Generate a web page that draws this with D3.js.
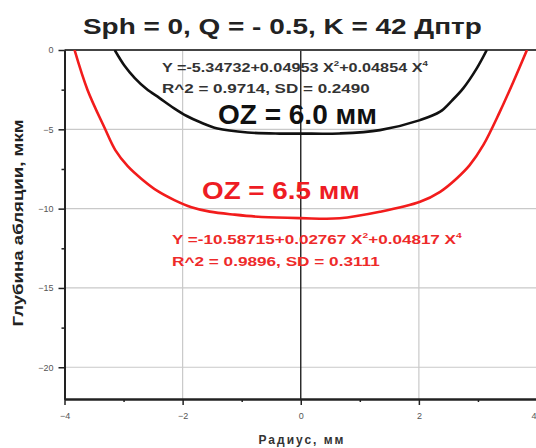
<!DOCTYPE html>
<html>
<head>
<meta charset="utf-8">
<script src="https://cdn.jsdelivr.net/npm/d3@7"></script>
<style>
    body { margin: 0; background: #fff; }
    svg { display: block; font-family: Arial, "Liberation Sans", sans-serif; }
</style>
</head>
<body>
<div id="chart"></div>
<script>
"use strict";

// curves: radius (mm) vs ablation depth (um)
var oz60X = [-3.15, -2.98, -2.81, -2.61, -2.39, -2.15, -1.93, -1.71, -1.41, -0.9, -0.36, 0, 0.66, 1.34, 2.02, 2.36, 2.56, 2.75, 2.98, 3.15];
var oz60Y = [0, -1.01, -1.77, -2.46, -3.03, -3.66, -4.16, -4.54, -4.95, -5.2, -5.27, -5.27, -5.26, -5.05, -4.42, -3.89, -3.19, -2.42, -1.16, 0];
var oz65X = [-3.83, -3.61, -3.32, -3.14, -2.93, -2.69, -2.42, -2.14, -1.85, -1.54, -1.12, -0.66, 0, 0.66, 1.34, 2.02, 2.36, 2.64, 2.86, 3.09, 3.37, 3.6, 3.83];
var oz65Y = [0, -2.52, -4.92, -6.31, -7.32, -8.14, -8.9, -9.46, -9.91, -10.19, -10.38, -10.53, -10.6, -10.61, -10.2, -9.57, -8.94, -8.1, -7.26, -6.0, -3.9, -2.0, 0];

var xTicks = [-4, -2, 0, 2, 4];
var xMinor = [-3, -1, 1, 3];
var yTicks = [0, -5, -10, -15, -20];
var yMinor = [-2.5, -7.5, -12.5, -17.5];

var W = 536, H = 448;
var plotLeft = 64.5, plotRight = 537, plotTop = 50, plotBottom = 399;

var svg = d3.select("#chart").append("svg")
    .attr("width", W)
    .attr("height", H);

var x = d3.scaleLinear().domain([-4, 4]).range([plotLeft, plotRight]);
var y = d3.scaleLinear().domain([-22, 0]).range([plotBottom, plotTop]);

// grid
svg.append("g")
    .selectAll("line")
    .data(yTicks.filter(function(d) { return d !== 0; }))
    .enter()
    .append("line")
    .attr("x1", plotLeft).attr("x2", plotRight)
    .attr("y1", function(d) { return y(d); })
    .attr("y2", function(d) { return y(d); })
    .attr("stroke", "#c9c9c9").attr("stroke-width", 1.2);

svg.append("g")
    .selectAll("line")
    .data([-2, 2])
    .enter()
    .append("line")
    .attr("y1", plotTop).attr("y2", plotBottom)
    .attr("x1", function(d) { return x(d); })
    .attr("x2", function(d) { return x(d); })
    .attr("stroke", "#c9c9c9").attr("stroke-width", 1.2);

// centre line
svg.append("line")
    .attr("x1", x(0)).attr("x2", x(0))
    .attr("y1", plotTop).attr("y2", plotBottom)
    .attr("stroke", "#222").attr("stroke-width", 1.4);

// top frame
svg.append("line")
    .attr("x1", plotLeft).attr("x2", plotRight)
    .attr("y1", plotTop).attr("y2", plotTop)
    .attr("stroke", "#444").attr("stroke-width", 2);

// axes
function styleAxis(g) {
    g.select(".domain").attr("stroke", "#222").attr("stroke-width", 2);
    g.selectAll(".tick line").attr("stroke", "#222").attr("stroke-width", 1.5);
    g.selectAll(".tick text").attr("fill", "#555").attr("font-size", 9).attr("font-family", "Arial, 'Liberation Sans', sans-serif");
}

svg.append("g")
    .attr("transform", "translate(0," + plotBottom + ")")
    .call(d3.axisBottom(x).tickValues(xMinor).tickSize(3).tickFormat("").tickSizeOuter(0))
    .call(styleAxis);

var xAxis = svg.append("g")
    .attr("transform", "translate(0," + plotBottom + ")")
    .call(d3.axisBottom(x).tickValues(xTicks).tickSize(6).tickPadding(8).tickSizeOuter(0))
    .call(styleAxis);
// last label sits at the page edge: keep it inside
xAxis.selectAll(".tick text")
    .filter(function(d) { return d === 4; })
    .attr("text-anchor", "end")
    .attr("dx", -1);

svg.append("g")
    .attr("transform", "translate(" + plotLeft + ",0)")
    .call(d3.axisLeft(y).tickValues(yMinor).tickSize(3).tickFormat("").tickSizeOuter(0))
    .call(styleAxis);

svg.append("g")
    .attr("transform", "translate(" + plotLeft + ",0)")
    .call(d3.axisLeft(y).tickValues(yTicks).tickSize(6).tickPadding(5).tickSizeOuter(0))
    .call(styleAxis);

// curves
svg.append("clipPath").attr("id", "plotclip")
    .append("rect")
    .attr("x", plotLeft).attr("y", plotTop)
    .attr("width", plotRight - plotLeft).attr("height", plotBottom - plotTop);

var line = d3.line()
    .x(function(d) { return x(d[0]); })
    .y(function(d) { return y(d[1]); })
    .curve(d3.curveCatmullRom.alpha(0.5));

svg.append("path")
    .datum(d3.zip(oz60X, oz60Y))
    .attr("clip-path", "url(#plotclip)")
    .attr("fill", "none")
    .attr("stroke", "#111")
    .attr("stroke-width", 2.6)
    .attr("d", line);

svg.append("path")
    .datum(d3.zip(oz65X, oz65Y))
    .attr("clip-path", "url(#plotclip)")
    .attr("fill", "none")
    .attr("stroke", "#f21c1c")
    .attr("stroke-width", 2.6)
    .attr("d", line);

// text placed with its left edge and stretched to the width seen in the picture
function fitText(parts, x0, yb, width, size, color, weight) {
    var t = svg.append("text")
        .attr("font-size", size)
        .attr("font-weight", weight)
        .attr("fill", color);
    parts.forEach(function(p) {
        var s = t.append("tspan").text(p.text);
        if (p.sup) {
            s.attr("font-size", size * 0.6).attr("dy", -size * 0.45);
        } else if (p.after) {
            s.attr("dy", size * 0.45);
        }
    });
    var w = t.node().getComputedTextLength();
    t.attr("transform", "translate(" + x0 + "," + yb + ") scale(" + (width / w) + ",1)");
    return t;
}

fitText([{text: "Sph = 0, Q = - 0.5,  K = 42 Дптр"}], 83, 34, 399, 22, "#222", "bold");

fitText([
    {text: "Y =-5.34732+0.04953 X"}, {text: "2", sup: true},
    {text: "+0.04854 X", after: true}, {text: "4", sup: true}
], 162, 71.5, 266, 12, "#333", "bold");
fitText([{text: "R^2 = 0.9714,  SD = 0.2490"}], 162, 92.5, 208, 12, "#333", "bold");
fitText([{text: "OZ = 6.0 мм"}], 218, 124, 159, 27, "#111", "bold");

fitText([{text: "OZ = 6.5 мм"}], 202, 198.5, 158, 24, "#ee1c24", "bold");
fitText([
    {text: "Y =-10.58715+0.02767 X"}, {text: "2", sup: true},
    {text: "+0.04817 X", after: true}, {text: "4", sup: true}
], 172, 243.5, 290, 12, "#ee2a2a", "bold");
fitText([{text: "R^2 = 0.9896,  SD = 0.3111"}], 172, 266, 208, 12, "#ee2a2a", "bold");

// axis titles
svg.append("text")
    .attr("transform", "translate(23,223) rotate(-90)")
    .attr("text-anchor", "middle")
    .attr("font-size", 14)
    .attr("font-weight", "bold")
    .attr("fill", "#222")
    .attr("textLength", 207)
    .attr("lengthAdjust", "spacingAndGlyphs")
    .text("Глубина абляции,  мкм");

svg.append("text")
    .attr("x", 302)
    .attr("y", 444)
    .attr("text-anchor", "middle")
    .attr("font-size", 12)
    .attr("font-weight", "bold")
    .attr("fill", "#333")
    .attr("letter-spacing", 2)
    .text("Радиус,  мм");
</script>
</body>
</html>
